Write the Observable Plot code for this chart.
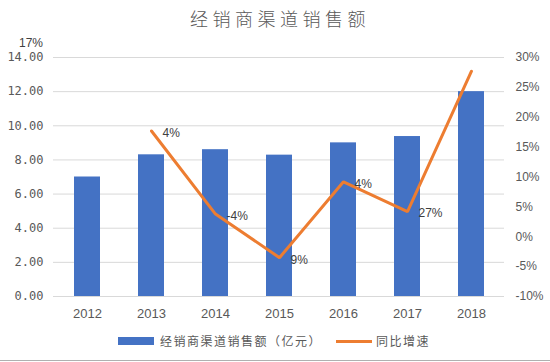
<!DOCTYPE html>
<html>
<head>
<meta charset="utf-8">
<script src="https://cdn.jsdelivr.net/npm/d3@7"></script>
<script src="https://cdn.jsdelivr.net/npm/@observablehq/plot@0.6"></script>
<style>
  body { margin: 0; background: #fff; }
  #wrap { position: relative; width: 550px; height: 362px; overflow: hidden; background: #fff;
          font-family: "Noto Sans CJK SC", "Liberation Sans", sans-serif; color: #595959; }
  #title { position: absolute; left: 190px; top: 5px; font-size: 18px; line-height: 26px; font-weight: 300;
           letter-spacing: 4.5px; color: #595959; white-space: nowrap; }
  #chart { position: absolute; left: 0; top: 36px; }
  .lg-swatch { position: absolute; }
  .lg-text { position: absolute; font-size: 12px; line-height: 18px; letter-spacing: 1.5px;
             color: #595959; white-space: nowrap; }
  #bottomline { position: absolute; left: 0; top: 360px; width: 550px; height: 1px; background: #b0b0b0; }
</style>
</head>
<body>
<div id="wrap">
  <div id="title"></div>
  <div id="chart"></div>
  <div class="lg-swatch" id="sw1" style="left:118px;top:337px;width:36px;height:8px;background:#4472C4"></div>
  <div class="lg-text" id="lt1" style="left:160px;top:332px"></div>
  <div class="lg-swatch" id="sw2" style="left:336px;top:340px;width:36px;height:3px;background:#ED7D31"></div>
  <div class="lg-text" id="lt2" style="left:376px;top:332px"></div>
  <div id="bottomline"></div>
</div>
<script>
// ---- data ----
const chartTitle = "经销商渠道销售额";
const seriesBarName = "经销商渠道销售额（亿元）";
const seriesLineName = "同比增速";
const years = ["2012", "2013", "2014", "2015", "2016", "2017", "2018"];
const sales = [7.0, 8.3, 8.6, 8.28, 9.0, 9.37, 12.0];
const growth = [null, 17.7, 3.8, -3.5, 9.2, 4.2, 27.7];
const pointLabels = ["", "4%", "-4%", "9%", "4%", "27%", ""];
const strayLabel = "17%";
const leftTicks = [0, 2, 4, 6, 8, 10, 12, 14];
const rightTicks = [-10, -5, 0, 5, 10, 15, 20, 25, 30];
const leftDomain = [0, 14];
const rightDomain = [-10, 30];

document.getElementById("title").textContent = chartTitle;
document.getElementById("lt1").textContent = seriesBarName;
document.getElementById("lt2").textContent = seriesLineName;

const toLeft = p => (p - rightDomain[0]) / (rightDomain[1] - rightDomain[0]) * (leftDomain[1] - leftDomain[0]) + leftDomain[0];
const toRight = v => (v - leftDomain[0]) / (leftDomain[1] - leftDomain[0]) * (rightDomain[1] - rightDomain[0]) + rightDomain[0];

const rows = years.map((y, i) => ({
  year: y,
  sales: sales[i],
  growth: growth[i],
  g: growth[i] == null ? NaN : toLeft(growth[i]),
  label: pointLabels[i]
}));

const textColor = "#595959";

const plot = Plot.plot({
  width: 550,
  height: 292,
  marginTop: 21,
  marginBottom: 32,
  marginLeft: 53,
  marginRight: 46,
  style: { fontFamily: "'Liberation Sans', sans-serif", fontSize: "12px", color: textColor, background: "transparent", overflow: "visible" },
  x: { type: "band", domain: years, paddingInner: 0.6, paddingOuter: 0.3, label: null },
  y: { domain: leftDomain, label: null },
  marks: [
    Plot.gridY(leftTicks, { stroke: "#d9d9d9", strokeOpacity: 1 }),
    Plot.barY(rows, { x: "year", y: "sales", fill: "#4472C4" }),
    Plot.line(rows.filter(d => d.growth != null), { x: "year", y: "g", stroke: "#ED7D31", strokeWidth: 3, strokeLinejoin: "miter" }),
    Plot.text(rows.filter(d => d.label), { x: "year", y: "g", text: "label", textAnchor: "start", dx: 11, dy: 2, fontSize: 12, fill: "#404040" }),
    Plot.text([strayLabel], { frameAnchor: "top-left", text: d => d, textAnchor: "middle", lineAnchor: "middle", dx: -22.5, dy: -14, fontSize: 12, fill: "#404040" }),
    Plot.axisY(leftTicks, { anchor: "left", tickSize: 0, tickPadding: 10, tickFormat: d => d.toFixed(2), fontFamily: "'DejaVu Sans Mono', monospace", fontSize: 12, fill: textColor, label: null }),
    Plot.axisY(rightTicks.map(toLeft), { anchor: "right", tickSize: 0, tickPadding: 11, tickFormat: d => Math.round(toRight(d)) + "%", fontSize: 12, fill: textColor, label: null }),
    Plot.axisX({ tickSize: 0, tickPadding: 12, fontSize: 13, fill: textColor, label: null })
  ]
});
document.getElementById("chart").appendChild(plot);
</script>
</body>
</html>
